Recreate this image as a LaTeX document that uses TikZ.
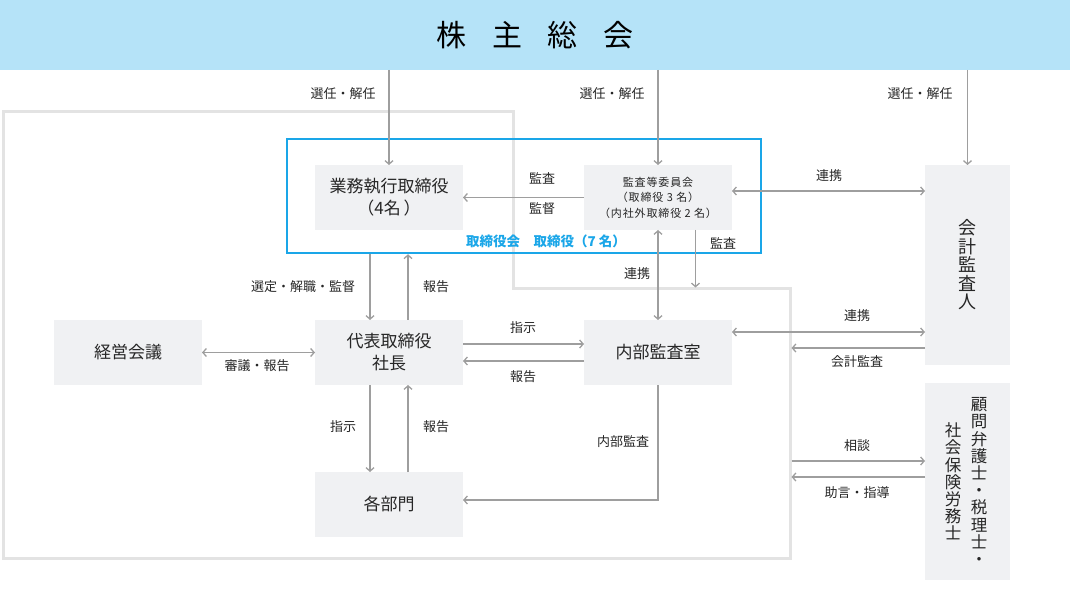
\documentclass[tikz,border=0pt]{standalone}
\usepackage{fontspec}
\setmainfont{Noto Sans CJK JP}
\newfontfamily\spacedjp[LetterSpace=8]{Noto Sans CJK JP}
\usetikzlibrary{arrows.meta,positioning}
\definecolor{boxgray}{HTML}{F0F1F3}
\definecolor{linegray}{HTML}{9E9E9E}
\definecolor{framegray}{HTML}{E3E3E3}
\definecolor{boardblue}{HTML}{1AA6E8}
\definecolor{bannerblue}{HTML}{B5E3F8}
\tikzset{
    box/.style={fill=boxgray, minimum width=148pt, minimum height=65pt, inner sep=0pt, outer sep=0pt,
      align=center, text=black!85, font=\fontsize{17}{22}\selectfont},
    lbl/.style={font=\fontsize{13}{15}\selectfont, inner sep=0pt, text=black!85},
    arr/.style={draw=linegray, line width=1.3pt, ->},
    darr/.style={draw=linegray, line width=1.3pt, <->},
    vtext/.style={align=center, inner sep=0pt, text=black!85},
  }

\begin{document}
\begin{tikzpicture}[x=1pt, y=-1pt, >={Straight Barb[length=3.5pt,width=8pt]}]
    \useasboundingbox (0,0) rectangle (1070,601);

    %% banner
    \node[fill=bannerblue, minimum width=1070pt, minimum height=70pt, inner sep=0pt, outer sep=0pt,
      font=\fontsize{30}{34}\selectfont] (gm) at (535,35) {株\hspace{0.85em}主\hspace{0.85em}総\hspace{0.85em}会};

    %% frames
    \draw[framegray, line width=3pt] (3,112) -- (513,112) -- (513,289) -- (790,289) -- (790,558) -- (3,558) -- cycle;
    \coordinate (frameR) at (791.5,0);
    \coordinate (frameS) at (0,287.5);
    \node[draw=boardblue, line width=2.5pt, minimum width=474pt, minimum height=114pt, inner sep=0pt] (board) at (524,196) {};
    \node[font=\fontsize{13.5}{15}\selectfont\bfseries, text=boardblue, inner sep=0pt] (boardlbl) at (546,241) {取締役会\hspace{1em}取締役（7 名）};

    %% boxes
    \node[box] (exec) at (389,197.5) {業務執行取締役\\（4名\,）};
    \node[box, right=121pt of exec, font=\spacedjp\fontsize{11}{15.5}\selectfont] (ac) {監査等委員会\\（取締役 3 名）\\（内社外取締役 2 名）};
    \node[box, below=90pt of exec] (ceo) {代表取締役\\社長};
    \node[box, left=113pt of ceo] (mtg) {経営会議};
    \node[box, below=90pt of ac] (ia) {内部監査室};
    \node[box, below=87pt of ceo] (dept) {各部門};
    \node[box, minimum width=85pt, minimum height=200pt, font=\fontsize{18}{18.5}\selectfont] (auditor) at (967.5,265) {会\\計\\監\\査\\人};
    \node[box, minimum width=85pt, minimum height=197pt] (adv) at (967.5,481.5) {};
    \node[vtext, font=\fontsize{16.5}{17.2}\selectfont] (advA) at ([xshift=11.5pt]adv.center) {顧\\問\\弁\\護\\士\\・\\税\\理\\士\\・};
    \node[vtext, font=\fontsize{16.5}{17.2}\selectfont] (advB) at ([xshift=-14.5pt]adv.center) {社\\会\\保\\険\\労\\務\\士};

    %% from the general meeting
    \draw[arr] (exec.north |- gm.south) -- (exec.north);
    \draw[arr] (ac.north |- gm.south) -- (ac.north);
    \draw[arr] (auditor.north |- gm.south) -- (auditor.north);
    \node[lbl] (sel1) at (343,94) {選任・解任};
    \node[lbl] (sel2) at (612,94) {選任・解任};
    \node[lbl] (sel3) at (920,94) {選任・解任};

    %% audit committee
    \draw[arr] (ac.west) -- (exec.east);
    \node[lbl] (aud1) at (542,178) {監査};
    \node[lbl] (sup1) at (542,209) {監督};
    \coordinate (acR) at ([yshift=6.5pt]ac.east);
    \draw[darr] (acR) -- (acR -| auditor.west);
    \node[lbl] (coop1) at (829,176) {連携};
    \coordinate (acD) at ([xshift=37.5pt]ac.south);
    \draw[arr] (acD) -- (acD |- frameS);
    \node[lbl] (aud2) at (723,243) {監査};
    \draw[darr] (ac.south) -- (ia.north);
    \node[lbl] (coop2) at (637,274) {連携};

    %% board and president
    \path (board.south -| exec.south) coordinate (bd);
    \path (ceo.north) coordinate (cn);
    \draw[arr] ([xshift=-19pt]bd) -- ([xshift=-19pt]cn);
    \draw[arr] ([xshift=19pt]cn) -- ([xshift=19pt]bd);
    \node[lbl] (appt) at (303,287) {選定・解職・監督};
    \node[lbl] (rep1) at (436,287) {報告};

    \draw[darr] (mtg.east) -- (ceo.west);
    \node[lbl] (delib) at (257,366) {審議・報告};

    \draw[arr] ([yshift=8.5pt]ceo.east) -- ([yshift=8.5pt]ia.west);
    \draw[arr] ([yshift=-8.5pt]ia.west) -- ([yshift=-8.5pt]ceo.east);
    \node[lbl] (inst1) at (523,328) {指示};
    \node[lbl] (rep2) at (523,377) {報告};

    \draw[arr] ([xshift=-19pt]ceo.south) -- ([xshift=-19pt]dept.north);
    \draw[arr] ([xshift=19pt]dept.north) -- ([xshift=19pt]ceo.south);
    \node[lbl] (inst2) at (343,427) {指示};
    \node[lbl] (rep3) at (436,427) {報告};

    \coordinate (dpE) at ([yshift=4.5pt]dept.east);
    \draw[arr] (ia.south) |- (dpE);
    \node[lbl] (iaud) at (623,442) {内部監査};

    %% external auditor and advisers
    \coordinate (iaR) at ([yshift=20.5pt]ia.east);
    \draw[darr] (iaR) -- (iaR -| auditor.west);
    \node[lbl] (coop3) at (857,316) {連携};
    \coordinate (caA) at ([yshift=-83pt]auditor.west);
    \draw[arr] (caA) -- (caA -| frameR);
    \node[lbl] (acct) at (857,362) {会計監査};

    \coordinate (advIn) at ([yshift=20.5pt]adv.west);
    \coordinate (advOut) at ([yshift=4.5pt]adv.west);
    \draw[arr] (advIn -| frameR) -- (advIn);
    \draw[arr] (advOut) -- (advOut -| frameR);
    \node[lbl] (cons) at (857,446) {相談};
    \node[lbl] (advice) at (857,493) {助言・指導};
  \end{tikzpicture}
\end{document}
